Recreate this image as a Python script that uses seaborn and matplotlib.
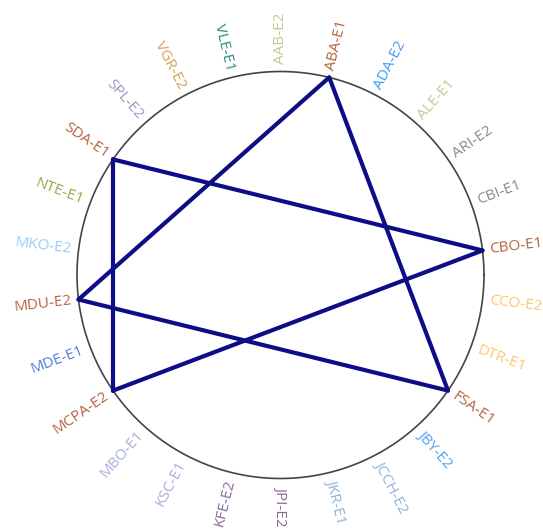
import numpy as np
import pandas as pd
import matplotlib
matplotlib.use("Agg")
import matplotlib.pyplot as plt
import seaborn as sns

# nodes in clockwise order starting from the top
nodes = ["AAB-E2", "ABA-E1", "ADA-E2", "ALE-E1", "ARI-E2", "CBI-E1", "CBO-E1",
         "CCO-E2", "DTR-E1", "FSA-E1", "JBY-E2", "JCCH-E2", "JKR-E1", "JPI-E2",
         "KFE-E2", "KSC-E1", "MBO-E1", "MCPA-E2", "MDE-E1", "MDU-E2", "MKO-E2",
         "NTE-E1", "SDA-E1", "SPL-E2", "VGR-E2", "VLE-E1"]
node_colors = ["#c6c996", "#b5653f", "#3d9cf5", "#c6c996", "#8c8c8c", "#8c8c8c", "#b5653f",
               "#fdc66e", "#fdc66e", "#b5653f", "#4ea3f2", "#8eb2dc", "#8eb2dc", "#8a6b98",
               "#8a6b98", "#a9afdc", "#a9afdc", "#b5653f", "#4f80d8", "#b5653f", "#9ccaf9",
               "#a3a447", "#b5653f", "#9898c8", "#d7a24e", "#2f8c86"]
edge_src = ["ABA-E1", "FSA-E1", "MDU-E2", "SDA-E1", "CBO-E1", "MCPA-E2"]
edge_dst = ["FSA-E1", "MDU-E2", "ABA-E1", "CBO-E1", "MCPA-E2", "SDA-E1"]

sns.set_theme(style="white")
plt.rcParams["font.family"] = ["Open Sans", "DejaVu Sans"]

fig = plt.figure(figsize=(5.43, 5.30), dpi=100)
ax = fig.add_axes([0, 0, 1, 1])

n = len(nodes)
ang = np.deg2rad(90 - np.arange(n) * 360.0 / n)
pos = {name: (np.cos(a), np.sin(a)) for name, a in zip(nodes, ang)}

# circle outline
t = np.linspace(0, 2 * np.pi, 400)
ax.plot(np.cos(t), np.sin(t), color="#444444", lw=1.2, zorder=1)

# edges
rows = []
for k, (s, d) in enumerate(zip(edge_src, edge_dst)):
    for p in (s, d):
        rows.append({"edge": k, "x": pos[p][0], "y": pos[p][1]})
edges = pd.DataFrame(rows)
sns.lineplot(data=edges, x="x", y="y", units="edge", estimator=None, sort=False,
             color="#0d0d87", lw=3, ax=ax, zorder=2)

# labels
r_lab = 1.035
for name, a, c in zip(nodes, ang, node_colors):
    deg = np.rad2deg(a) % 360
    x, y = r_lab * np.cos(a), r_lab * np.sin(a)
    if 90 < deg < 270 and not np.isclose(deg, 270):
        rot, ha = deg - 180, "right"
    else:
        rot, ha = deg if deg <= 90 else deg - 360, "left"
    ax.text(x, y, name, color=c, fontsize=11, rotation=rot, ha=ha, va="center",
            rotation_mode="anchor")

R = 203.5
ax.set_xlim(-280.5 / R, (543 - 280.5) / R)
ax.set_ylim(-(530 - 275) / R, 275 / R)
ax.set_aspect("equal")
ax.axis("off")

fig.savefig("out.png", dpi=100)
